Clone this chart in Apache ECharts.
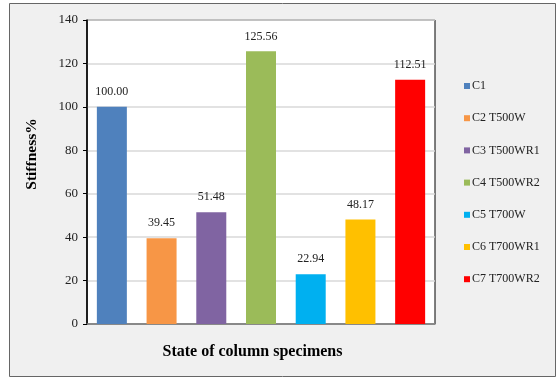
<!DOCTYPE html>
<html><head><meta charset="utf-8">
<script src="https://cdn.jsdelivr.net/npm/echarts@6/dist/echarts.min.js"></script>
<style>html,body{margin:0;padding:0;background:#fff}#c{width:558px;height:379px}</style>
</head><body><div id="c"></div>
<script>
const categories = ['C1','C2 T500W','C3 T500WR1','C4 T500WR2','C5 T700W','C6 T700WR1','C7 T700WR2'];
const values = [100.00, 39.45, 51.48, 125.56, 22.94, 48.17, 112.51];
const colors = ['#4f81bd','#f79646','#8064a2','#9bbb59','#00b0f0','#ffc000','#ff0000'];
const yTicks = [0,20,40,60,80,100,120,140];

const font = '"Liberation Serif","Times New Roman",serif';
const chart = echarts.init(document.getElementById('c'));
const series = categories.map((name, i) => ({
  name: name,
  type: 'bar',
  barWidth: 30,
  barGap: '-100%',
  itemStyle: { color: colors[i] },
  label: { show: true, position: 'top', distance: 9, formatter: p => p.value.toFixed(2),
           fontFamily: font, fontSize: 12, color: '#222' },
  data: values.map((v, j) => j === i ? v : null)
}));
chart.setOption({
  animation: false,
  graphic: [{ type: 'rect', z: -10, shape: { x: 9.5, y: 3.5, width: 546, height: 373 },
              style: { fill: '#f0f0f0', stroke: '#666', lineWidth: 1 } }],
  grid: { left: 87, right: 123, top: 20, bottom: 55, show: true, backgroundColor: '#fff',
          borderColor: '#000', borderWidth: 1 },
  legend: {
    orient: 'vertical', left: 459, top: 74, itemWidth: 6, itemHeight: 6, itemGap: 18.2,
    icon: 'rect',
    textStyle: { fontFamily: font, fontSize: 12, lineHeight: 14, color: '#222', padding: [0, 0, 0, -3] },
    data: categories
  },
  xAxis: {
    type: 'category', data: categories,
    name: 'State of column specimens', nameLocation: 'middle', nameGap: 20,
    nameTextStyle: { fontFamily: font, fontSize: 16, fontWeight: 'bold', color: '#000', padding: [0, 17, 0, 0] },
    axisLine: { lineStyle: { color: '#777', width: 1.5 } },
    axisTick: { show: false }, axisLabel: { show: false }
  },
  yAxis: {
    type: 'value', min: yTicks[0], max: yTicks[yTicks.length - 1], interval: 20,
    name: 'Stiffness%', nameLocation: 'middle', nameGap: 47,
    nameTextStyle: { fontFamily: font, fontSize: 15.5, fontWeight: 'bold', color: '#000', padding: [0, 0, 0, 36] },
    axisLine: { show: true, lineStyle: { color: '#000', width: 1.5 } },
    axisTick: { show: true, length: 4, lineStyle: { color: '#000' } },
    axisLabel: { fontFamily: font, fontSize: 13, color: '#222', margin: 9 },
    splitLine: { lineStyle: { color: '#d9d9d9', width: 1.5 } }
  },
  series: series
});
</script></body></html>
